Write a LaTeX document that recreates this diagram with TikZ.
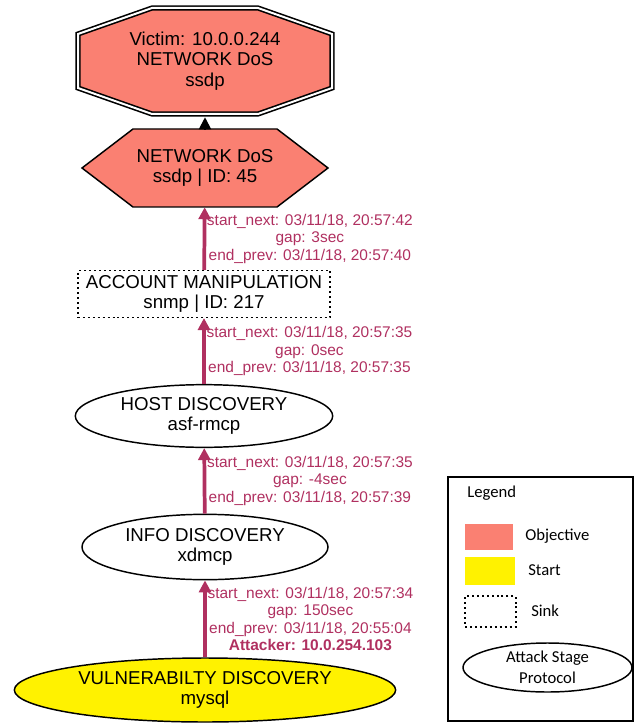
\documentclass[tikz,border=0pt]{standalone}
\usepackage{fontspec}
\setmainfont{Liberation Sans}
\newfontfamily\legendfont{Carlito}
\usepackage{xcolor}
\usepackage{tikz}
\usetikzlibrary{arrows.meta, shapes.geometric}
\definecolor{objcolor}{HTML}{FA8072}
\definecolor{edgecolor}{HTML}{B03060}

\begin{document}
\begin{tikzpicture}[x=0.75pt, y=-0.75pt,
  every node/.style={font=\fontsize{14}{15.5}\selectfont, align=center, inner sep=0pt},
  >={Triangle[length=9pt, width=9pt]},
  edge/.style={->, edgecolor, line width=2.8pt},
  edgelabel/.style={midway, anchor=west, xshift=0.5pt, text=edgecolor, font=\fontsize{11.6}{13.1}\selectfont},
  stage/.style={draw, ellipse, line width=1.1pt},
  objective/.style={fill=objcolor, draw, line width=1.1pt},
  sink/.style={draw, line width=1.1pt, dash pattern=on 1.5pt off 2.2pt},
  legendtext/.style={font=\legendfont\fontsize{12.5}{15.75}\selectfont}]
  \useasboundingbox (0,0) rectangle (635,723);

  % Victim (top)
  \draw[objective, double, double distance=1.5pt, line width=1.2pt]
    (152,8) -- (258,8) -- (332,34) -- (332,88) -- (258,114) -- (152,114) -- (78,88) -- (78,34) -- cycle;
  \node[minimum height=84pt] (victim) at (205,61) {Victim: 10.0.0.244\\NETWORK DoS\\ssdp};

  % Objective stage
  \draw[objective] (133,129) -- (277,129) -- (328,168) -- (277,207) -- (133,207) -- (82,168) -- cycle;
  \node[minimum height=58.5pt] (dos) at (205,168) {NETWORK DoS\\ssdp | ID: 45};
  \draw[->, line width=1.4pt] (dos) -- (victim);

  % Sink and stages
  \node[sink, minimum width=189pt, minimum height=35pt] (acct) at (204,294) {ACCOUNT MANIPULATION\\snmp | ID: 217};
  \node[stage, minimum width=193pt, minimum height=47pt] (hostdisc) at (204,416) {HOST DISCOVERY\\asf-rmcp};
  \node[stage, minimum width=184.5pt, minimum height=49pt] (infodisc) at (205,547) {INFO DISCOVERY\\xdmcp};
  \node[stage, fill=yellow, minimum width=286pt, minimum height=48pt] (vulndisc) at (205,690) {VULNERABILTY DISCOVERY\\mysql};

  \draw[edge] (acct) -- (dos)
    node[edgelabel] (gap1) {start\_next: 03/11/18, 20:57:42\\gap: 3sec\\end\_prev: 03/11/18, 20:57:40};
  \draw[edge] (hostdisc) -- (acct)
    node[edgelabel] (gap2) {start\_next: 03/11/18, 20:57:35\\gap: 0sec\\end\_prev: 03/11/18, 20:57:35};
  \draw[edge] (infodisc) -- (hostdisc)
    node[edgelabel] (gap3) {start\_next: 03/11/18, 20:57:35\\gap: -4sec\\end\_prev: 03/11/18, 20:57:39};
  \draw[edge] (vulndisc) -- (infodisc)
    node[edgelabel] (gap4) {start\_next: 03/11/18, 20:57:34\\gap: 150sec\\end\_prev: 03/11/18, 20:55:04\\\textbf{Attacker: 10.0.254.103}};

  % Legend (right)
  \node[draw, line width=1.1pt, minimum width=138.75pt, minimum height=183pt] (legend) at (540.5,599) {};
  \node[legendtext, anchor=west] (legendtitle) at (467,493) {Legend};
  \node[fill=objcolor, minimum width=36pt, minimum height=19.5pt] (objkey) at (489,537) {};
  \node[legendtext, anchor=west] (objtext) at (525,536) {Objective};
  \node[fill=yellow, minimum width=37.5pt, minimum height=21pt] (startkey) at (490,571) {};
  \node[legendtext, anchor=west] (starttext) at (528,570) {Start};
  \node[sink, minimum width=38pt, minimum height=23pt] (sinkkey) at (490.5,611.5) {};
  \node[legendtext, anchor=west] (sinktext) at (531,611) {Sink};
  \node[stage, legendtext, minimum width=126.75pt, minimum height=36.75pt] (stagekey) at (547.5,667.5) {Attack Stage\\Protocol};
\end{tikzpicture}
\end{document}
